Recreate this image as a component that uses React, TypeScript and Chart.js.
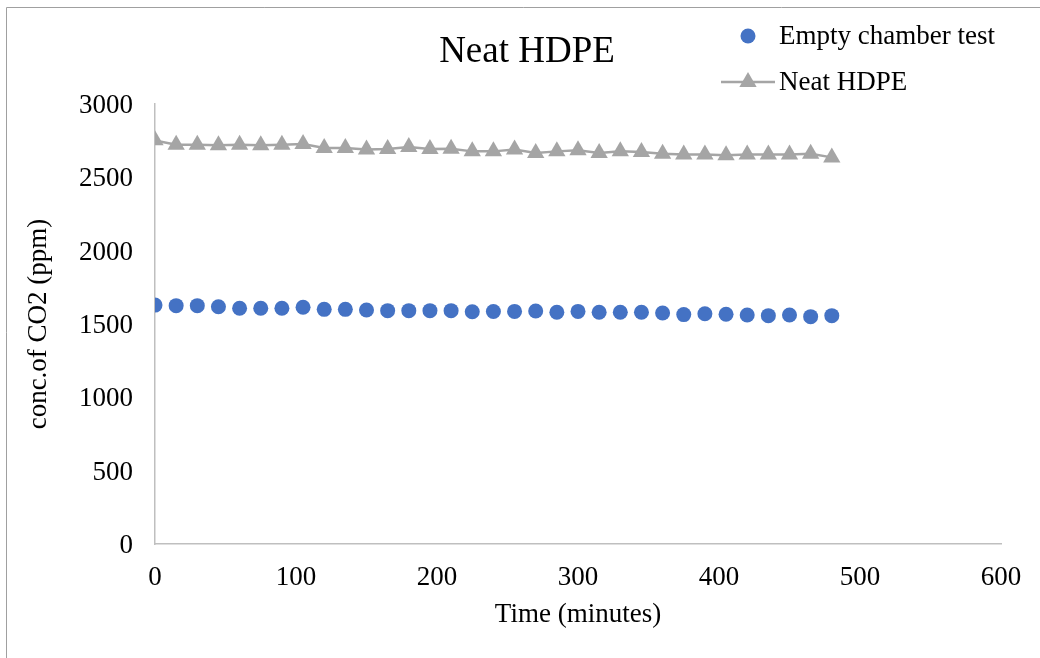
import React, { useEffect, useRef } from "react";
import { Chart, registerables } from "chart.js";

Chart.register(...registerables);

const timeMinutes = [0, 15, 30, 45, 60, 75, 90, 105, 120, 135, 150, 165, 180, 195, 210, 225, 240, 255, 270, 285, 300, 315, 330, 345, 360, 375, 390, 405, 420, 435, 450, 465, 480];
const emptyChamber = [1629, 1625, 1625, 1618, 1607, 1607, 1607, 1614, 1600, 1600, 1595, 1591, 1591, 1591, 1591, 1584, 1585, 1586, 1589, 1580, 1586, 1580, 1580, 1580, 1575, 1564, 1570, 1566, 1561, 1557, 1561, 1550, 1557];
const neatHDPE = [2752, 2723, 2723, 2718, 2723, 2718, 2723, 2727, 2700, 2700, 2689, 2693, 2707, 2693, 2695, 2677, 2677, 2689, 2666, 2677, 2684, 2666, 2677, 2673, 2661, 2655, 2655, 2650, 2655, 2655, 2655, 2661, 2636];
const yTicks = [0, 500, 1000, 1500, 2000, 2500, 3000];
const xTicks = [0, 100, 200, 300, 400, 500, 600];

const chartTitle = "Neat HDPE";
const seriesNames = ["Empty chamber test", "Neat HDPE"];
const xTitle = "Time (minutes)";
const yTitle = "conc.of CO2 (ppm)";

const FONT = "'Liberation Serif', 'Times New Roman', serif";
const BLUE = "#4472C4";
const GREY = "#A5A5A5";
const FS = 27;

export default function App() {
  const ref = useRef<HTMLCanvasElement | null>(null);

  useEffect(() => {
    if (!ref.current) return;
    const decor = {
      id: "decor",
      beforeDraw(chart: any) {
        const ctx = chart.ctx;
        ctx.save();
        ctx.strokeStyle = "#a0a0a0";
        ctx.lineWidth = 1;
        ctx.beginPath();
        ctx.moveTo(6.5, 658);
        ctx.lineTo(6.5, 7.5);
        ctx.lineTo(1040, 7.5);
        ctx.stroke();
        ctx.restore();
      },
      afterDraw(chart: any) {
        const ctx = chart.ctx;
        ctx.save();
        // title
        ctx.fillStyle = "#000";
        ctx.textBaseline = "middle";
        ctx.textAlign = "center";
        ctx.font = `37px ${FONT}`;
        ctx.fillText(chartTitle, 527, 52);
        // legend
        ctx.textAlign = "left";
        ctx.font = `${FS}px ${FONT}`;
        ctx.fillText(seriesNames[0], 779, 37);
        ctx.fillText(seriesNames[1], 779, 83);
        ctx.fillStyle = BLUE;
        ctx.beginPath();
        ctx.arc(748, 36, 7.5, 0, Math.PI * 2);
        ctx.fill();
        ctx.strokeStyle = GREY;
        ctx.lineWidth = 2.5;
        ctx.beginPath();
        ctx.moveTo(721, 82);
        ctx.lineTo(775, 82);
        ctx.stroke();
        ctx.fillStyle = GREY;
        const r = 10;
        ctx.beginPath();
        ctx.moveTo(748, 82 - r);
        ctx.lineTo(748 + r * Math.sin(Math.PI / 3), 82 + r / 2);
        ctx.lineTo(748 - r * Math.sin(Math.PI / 3), 82 + r / 2);
        ctx.closePath();
        ctx.fill();
        ctx.restore();
      },
    };

    const chart = new Chart(ref.current, {
      type: "line",
      data: {
        datasets: [
          {
            label: seriesNames[0],
            data: timeMinutes.map((t, i) => ({ x: t, y: emptyChamber[i] })),
            showLine: false,
            pointStyle: "circle",
            pointRadius: 7.5,
            pointBackgroundColor: BLUE,
            pointBorderColor: BLUE,
            pointBorderWidth: 0,
            borderColor: BLUE,
            backgroundColor: BLUE,
          },
          {
            label: seriesNames[1],
            data: timeMinutes.map((t, i) => ({ x: t, y: neatHDPE[i] })),
            showLine: true,
            pointStyle: "triangle",
            pointRadius: 10,
            pointBackgroundColor: GREY,
            pointBorderColor: GREY,
            pointBorderWidth: 0,
            borderColor: GREY,
            backgroundColor: GREY,
            borderWidth: 2.5,
            tension: 0,
          },
        ],
      },
      options: {
        animation: false,
        responsive: false,
        maintainAspectRatio: false,
        layout: { padding: { top: 104, right: 39, bottom: 0, left: 0 } },
        plugins: {
          legend: { display: false },
          title: { display: false },
          tooltip: { enabled: false },
        },
        scales: {
          x: {
            type: "linear",
            min: 0,
            max: 600,
            afterFit: (s: any) => {
              s.height = 114;
            },
            afterBuildTicks: (s: any) => {
              s.ticks = xTicks.map((v) => ({ value: v }));
            },
            ticks: {
              font: { family: FONT, size: FS },
              color: "#000",
              padding: 18,
              maxRotation: 0,
              callback: (v: any) => String(v),
            },
            grid: { display: false, drawTicks: false },
            border: { display: true, color: "#bfbfbf", width: 1.5 },
            title: {
              display: true,
              text: xTitle,
              color: "#000",
              font: { family: FONT, size: FS },
              padding: { top: 0, bottom: 27 },
            },
          },
          y: {
            type: "linear",
            min: 0,
            max: 3000,
            afterFit: (s: any) => {
              s.width = 155;
            },
            afterBuildTicks: (s: any) => {
              s.ticks = yTicks.map((v) => ({ value: v }));
            },
            ticks: {
              font: { family: FONT, size: FS },
              color: "#000",
              padding: 22,
              labelOffset: 2,
              callback: (v: any) => String(v),
            },
            grid: { display: false, drawTicks: false },
            border: { display: true, color: "#bfbfbf", width: 1.5 },
            title: {
              display: true,
              text: yTitle,
              color: "#000",
              font: { family: FONT, size: FS },
              padding: { top: 23, bottom: 0 },
            },
          },
        },
      },
      plugins: [decor],
    });
    return () => chart.destroy();
  }, []);

  return (
    <div style={{ position: "fixed", left: 0, top: 0, width: 1040, height: 658, background: "#fff" }}>
      <canvas ref={ref} width={1040} height={658} style={{ display: "block" }} />
    </div>
  );
}
